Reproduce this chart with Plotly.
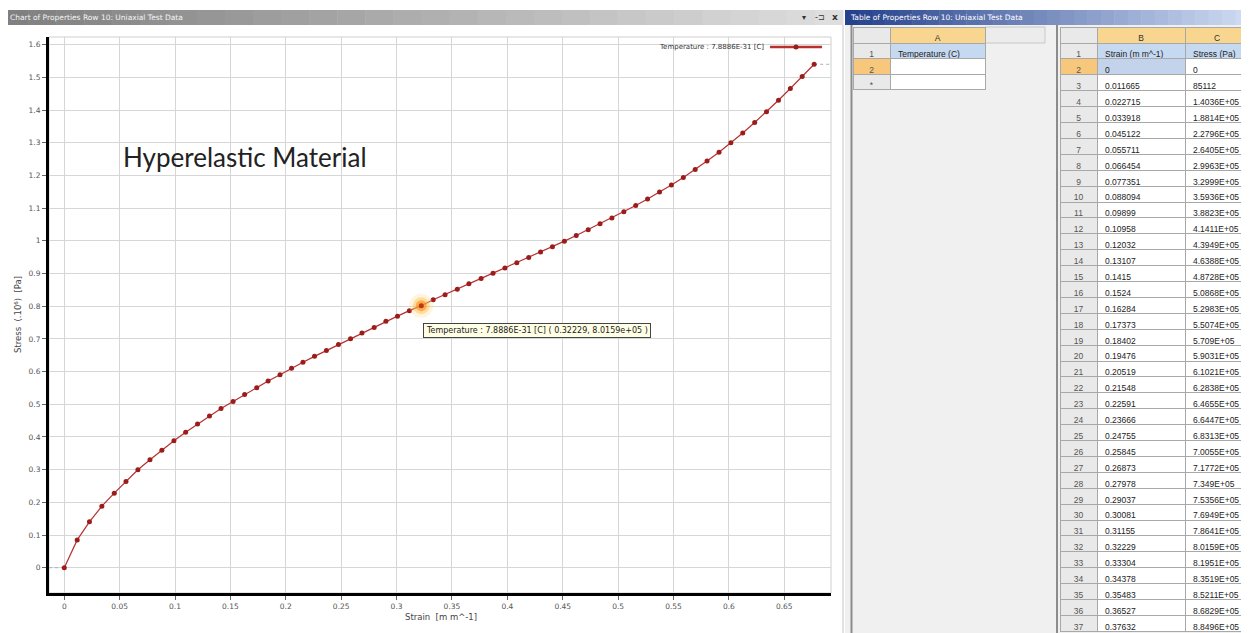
import plotly.graph_objects as go

W, H = 1249, 633
OX, OY = 8, 8                      # page body margin of the html output
FW, FH = W - OX, H - OY            # figure size so the page fills the window

# ---------------- data ----------------
strain = [0, 0.011665, 0.022715, 0.033918, 0.045122, 0.055711, 0.066454, 0.077351,
          0.088094, 0.09899, 0.10958, 0.12032, 0.13107, 0.1415, 0.1524, 0.16284,
          0.17373, 0.18402, 0.19476, 0.20519, 0.21548, 0.22591, 0.23666, 0.24755,
          0.25845, 0.26873, 0.27978, 0.29037, 0.30081, 0.31155, 0.32229, 0.33304,
          0.34378, 0.35483, 0.36527, 0.37632,
          # beyond the visible table rows
          0.38706, 0.3978, 0.40855, 0.4193, 0.43, 0.4407, 0.4515, 0.4622, 0.473,
          0.4837, 0.4944, 0.5052, 0.5159, 0.5266, 0.5374, 0.5481, 0.5589, 0.5696,
          0.5803, 0.5911, 0.6018, 0.6125, 0.6233, 0.634, 0.6448, 0.6555, 0.6662, 0.677]
stress_pa = [0, 85112, 1.4036e5, 1.8814e5, 2.2796e5, 2.6405e5, 2.9963e5, 3.2999e5,
             3.5936e5, 3.8823e5, 4.1411e5, 4.3949e5, 4.6388e5, 4.8728e5, 5.0868e5, 5.2983e5,
             5.5074e5, 5.709e5, 5.9031e5, 6.1021e5, 6.2838e5, 6.4655e5, 6.6447e5, 6.8313e5,
             7.0055e5, 7.1772e5, 7.349e5, 7.5356e5, 7.6949e5, 7.8641e5, 8.0159e5, 8.1951e5,
             8.3519e5, 8.5211e5, 8.6829e5, 8.8496e5,
             9.01e5, 9.17e5, 9.33e5, 9.49e5, 9.66e5, 9.82e5, 9.99e5, 10.16e5, 10.34e5,
             10.52e5, 10.70e5, 10.89e5, 11.08e5, 11.28e5, 11.49e5, 11.71e5, 11.94e5, 12.18e5,
             12.44e5, 12.71e5, 13.00e5, 13.30e5, 13.62e5, 13.95e5, 14.30e5, 14.66e5, 15.03e5, 15.40e5]
temperature_label = "7.8886E-31"
x_ticks = [0, 0.05, 0.1, 0.15, 0.2, 0.25, 0.3, 0.35, 0.4, 0.45, 0.5, 0.55, 0.6, 0.65]
x_ticktext = ["0", "0.05", "0.1", "0.15", "0.2", "0.25", "0.3", "0.35", "0.4", "0.45",
              "0.5", "0.55", "0.6", "0.65"]
y_ticks = [0, 0.1, 0.2, 0.3, 0.4, 0.5, 0.6, 0.7, 0.8, 0.9, 1.0, 1.1, 1.2, 1.3, 1.4, 1.5, 1.6]
y_ticktext = ["0", "0.1", "0.2", "0.3", "0.4", "0.5", "0.6", "0.7", "0.8", "0.9", "1",
              "1.1", "1.2", "1.3", "1.4", "1.5", "1.6"]
table_rows_shown = 36      # data rows visible in the table (rows 2..37)
highlight_index = 30       # hovered point


# ---------------- helpers ----------------
def px(x):
    return (x - OX) / FW


def py(y):
    return 1 - (y - OY) / FH


def fmt_stress(v):
    if v == 0:
        return "0"
    if v < 1e5:
        return f"{v:.0f}"
    m = f"{v / 1e5:.4f}".rstrip("0").rstrip(".")
    return m + "E+05"


stress = [v / 1e6 for v in stress_pa]
x_range = [-0.0138, 0.6922]
y_range = [-0.0774, 1.6235]

fig = go.Figure()

# dotted extension lines from axis to first point and from last point to edge
fig.add_trace(go.Scatter(x=[x_range[0], strain[0]], y=[stress[0], stress[0]], mode="lines",
                         line=dict(color="#b0b0b0", width=1, dash="dot"),
                         hoverinfo="skip", showlegend=False))
fig.add_trace(go.Scatter(x=[strain[-1], x_range[1]], y=[stress[-1], stress[-1]], mode="lines",
                         line=dict(color="#b0b0b0", width=1, dash="dot"),
                         hoverinfo="skip", showlegend=False))

# main curve
fig.add_trace(go.Scatter(x=strain, y=stress, mode="lines+markers",
                         line=dict(color="#b83030", width=1.2),
                         marker=dict(color="#9c1c1c", size=5),
                         name=f"Temperature : {temperature_label} [C]",
                         hoverinfo="skip", showlegend=False))

# hover glow
hx, hy = strain[highlight_index], stress[highlight_index]
fig.add_trace(go.Scatter(x=[hx, hx, hx, hx], y=[hy, hy, hy, hy], mode="markers",
                         marker=dict(size=[24, 17, 11, 5],
                                     color=["rgba(255,215,120,0.35)", "rgba(255,180,60,0.55)",
                                            "rgba(255,140,20,0.85)", "#9c1c1c"],
                                     line=dict(width=0)),
                         hoverinfo="skip", showlegend=False))

# ---------------- tables ----------------
hdr_orange = "#f9d690"
row_grey = "#e9e9e9"
sel_orange = "#f7c77c"
blue_hdr = "#c5d9f1"
tfam = "Liberation Sans, Arial"

# Table A
fig.add_trace(go.Table(
    domain=dict(x=[px(853), px(985)], y=[py(200), py(27)]),
    columnwidth=[37, 95],
    header=dict(values=["", "A"], height=16, align="center",
                fill=dict(color=[row_grey, hdr_orange]),
                line=dict(color="#a8a8a8", width=1),
                font=dict(family=tfam, size=8.5, color="#333")),
    cells=dict(values=[["1", "2", "*"], ["Temperature (C)", "", ""]], height=15.5,
               align=["center", "left"],
               fill=dict(color=[[row_grey, sel_orange, row_grey], [blue_hdr, "white", "white"]]),
               line=dict(color="#a8a8a8", width=1),
               font=dict(family=tfam, size=8.5, color=[["#555"] * 3, ["#222"] * 3])),
))

# Table B
rownums = [str(i) for i in range(1, table_rows_shown + 2)]
col_b = ["Strain (m m^-1)"] + [str(v) for v in strain[:table_rows_shown]]
col_c = ["Stress (Pa)"] + [fmt_stress(v) for v in stress_pa[:table_rows_shown]]
n = len(rownums)
fig.add_trace(go.Table(
    domain=dict(x=[px(1060), 1.0], y=[0.0, py(27)]),
    columnwidth=[37, 88, 64],
    header=dict(values=["", "B", "C"], height=16, align="center",
                fill=dict(color=[row_grey, hdr_orange, hdr_orange]),
                line=dict(color="#a8a8a8", width=1),
                font=dict(family=tfam, size=8.5, color="#333")),
    cells=dict(values=[rownums, col_b, col_c], height=15.9,
               align=["center", "left", "left"],
               fill=dict(color=[[row_grey, sel_orange] + [row_grey] * (n - 2),
                                [blue_hdr, "#c3d3ec"] + ["white"] * (n - 2),
                                [blue_hdr, "white"] + ["white"] * (n - 2)]),
               line=dict(color="#a8a8a8", width=1),
               font=dict(family=tfam, size=8.5,
                         color=[["#555"] * n, ["#222"] * n, ["#222"] * n])),
))

# ---------------- shapes (window chrome) ----------------
shapes = []
shapes.append(dict(type="rect", xref="paper", yref="paper", x0=px(845), x1=1, y0=0, y1=py(25),
                   fillcolor="#f0f0f0", line=dict(width=0), layer="below"))
steps = 30
for i in range(steps):
    t = i / (steps - 1)
    g = int(128 + t * (222 - 128))
    x0 = i * 843 / steps
    x1 = (i + 1) * 843 / steps + 0.5
    shapes.append(dict(type="rect", xref="paper", yref="paper", x0=px(x0), x1=px(x1),
                       y0=py(25), y1=py(10), fillcolor=f"rgb({g},{g},{g})",
                       line=dict(width=0), layer="below"))
for i in range(steps):
    t = i / (steps - 1)
    r = int(38 + t * (205 - 38))
    gg = int(66 + t * (218 - 66))
    b = int(140 + t * (242 - 140))
    x0 = 845 + i * (W - 845) / steps
    x1 = 845 + (i + 1) * (W - 845) / steps + 0.5
    shapes.append(dict(type="rect", xref="paper", yref="paper", x0=px(x0), x1=px(x1),
                       y0=py(25), y1=py(10), fillcolor=f"rgb({r},{gg},{b})",
                       line=dict(width=0), layer="below"))
shapes.append(dict(type="line", xref="paper", yref="paper", x0=px(843), x1=px(843), y0=0, y1=py(25),
                   line=dict(color="#c4c4c4", width=1)))
shapes.append(dict(type="line", xref="paper", yref="paper", x0=px(851.5), x1=px(851.5), y0=0, y1=py(25),
                   line=dict(color="#8c8c8c", width=2)))
shapes.append(dict(type="line", xref="paper", yref="paper", x0=px(1057), x1=px(1057), y0=0, y1=py(25),
                   line=dict(color="#8c8c8c", width=2)))
shapes.append(dict(type="rect", xref="paper", yref="paper", x0=px(985), x1=px(1045), y0=py(43), y1=py(27),
                   fillcolor="#ececec", line=dict(color="#c8c8c8", width=1), layer="below"))
shapes.append(dict(type="rect", xref="paper", yref="paper", x0=px(49), x1=px(831), y0=py(593), y1=py(37),
                   fillcolor="rgba(0,0,0,0)", line=dict(color="#cfcfcf", width=1), layer="below"))
# legend glyph
shapes.append(dict(type="line", xref="paper", yref="paper", x0=px(770), x1=px(822), y0=py(47), y1=py(47),
                   line=dict(color="#b83030", width=2.5)))
shapes.append(dict(type="circle", xref="paper", yref="paper", x0=px(793.5), x1=px(798.5),
                   y0=py(49.5), y1=py(44.5), fillcolor="#9c1c1c", line=dict(width=0)))

# ---------------- annotations ----------------
ann = []
ann.append(dict(xref="paper", yref="paper", x=px(8), y=py(17.5), xanchor="left", yanchor="middle",
                text="Chart of Properties Row 10: Uniaxial Test Data", showarrow=False,
                font=dict(family="DejaVu Sans", size=7.5, color="#f4f4f4")))
ann.append(dict(xref="paper", yref="paper", x=px(848), y=py(17.5), xanchor="left", yanchor="middle",
                text="Table of Properties Row 10: Uniaxial Test Data", showarrow=False,
                font=dict(family="DejaVu Sans", size=7.5, color="#ffffff")))
ann.append(dict(xref="paper", yref="paper", x=px(804), y=py(17.5), xanchor="center", yanchor="middle",
                text="▾", showarrow=False, font=dict(family="DejaVu Sans", size=8, color="#333")))
ann.append(dict(xref="paper", yref="paper", x=px(820), y=py(17.5), xanchor="center", yanchor="middle",
                text="-⊐", showarrow=False, font=dict(family="DejaVu Sans", size=8, color="#333")))
ann.append(dict(xref="paper", yref="paper", x=px(835), y=py(17.5), xanchor="center", yanchor="middle",
                text="<b>x</b>", showarrow=False, font=dict(family="DejaVu Sans", size=9, color="#333")))
ann.append(dict(xref="paper", yref="paper", x=px(18), y=py(315), xanchor="center", yanchor="middle",
                text="Stress  (.10⁶)  [Pa]", textangle=-90, showarrow=False,
                font=dict(family="DejaVu Sans", size=8.5, color="#444")))
ann.append(dict(xref="paper", yref="paper", x=px(441), y=py(617), xanchor="center", yanchor="middle",
                text="Strain  [m m^-1]", showarrow=False,
                font=dict(family="DejaVu Sans", size=8.5, color="#444")))
ann.append(dict(xref="paper", yref="paper", x=px(121), y=py(157), xanchor="left", yanchor="middle",
                text="Hyperelastic Material", showarrow=False,
                font=dict(family="Lato", size=26, color="#222")))
ann.append(dict(xref="paper", yref="paper", x=px(766), y=py(47), xanchor="right", yanchor="middle",
                text=f"Temperature : {temperature_label} [C]", showarrow=False,
                font=dict(family="DejaVu Sans", size=7, color="#333")))
ann.append(dict(xref="x", yref="y", x=hx, y=hy, xanchor="left", yanchor="middle",
                xshift=2, yshift=-25,
                text=f"Temperature : {temperature_label} [C] ( {hx}, {stress_pa[highlight_index]:.4e} )",
                showarrow=False, bgcolor="#ffffe6", bordercolor="#444", borderwidth=1, borderpad=2,
                font=dict(family="DejaVu Sans", size=8, color="#222")))

axis_font = dict(family="DejaVu Sans", size=7.5, color="#555")
fig.update_layout(
    width=FW, height=FH, margin=dict(l=0, r=0, t=0, b=0),
    paper_bgcolor="white", plot_bgcolor="white",
    showlegend=False,
    xaxis=dict(domain=[px(49), px(831)], range=x_range, tickvals=x_ticks, ticktext=x_ticktext,
               showgrid=True, gridcolor="#d6d6d6", gridwidth=1, zeroline=False,
               showline=True, linecolor="black", linewidth=2.5,
               ticks="outside", ticklen=4, tickcolor="#666", tickfont=axis_font, fixedrange=True),
    yaxis=dict(domain=[py(593), py(37)], range=y_range, tickvals=y_ticks, ticktext=y_ticktext,
               showgrid=True, gridcolor="#d6d6d6", gridwidth=1, zeroline=False,
               showline=True, linecolor="black", linewidth=3,
               ticks="outside", ticklen=4, tickcolor="#666", tickfont=axis_font, fixedrange=True),
    shapes=shapes, annotations=ann,
)

fig.write_html("out.html")
